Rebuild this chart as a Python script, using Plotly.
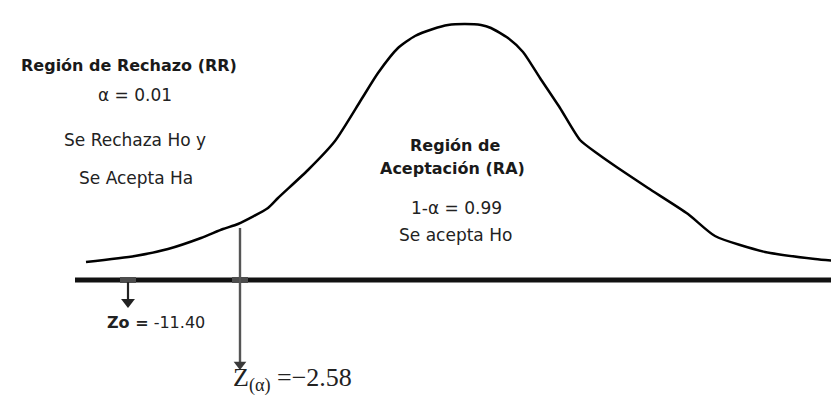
import plotly.graph_objects as go

# Curve (hand-drawn bell): x position and height above the baseline
curve_x = [78, 127, 160, 193, 215, 230, 260, 270, 300, 327, 353, 370, 390, 407, 425, 440,
           457, 473, 483, 500, 515, 532, 552, 572, 590, 610, 640, 680, 707, 757, 807, 839]
curve_h = [18, 24, 31, 42, 51, 56, 72, 82, 110, 139, 180, 207, 232, 244, 251, 255,
           256, 255, 252, 242, 228, 202, 172, 140, 126, 112, 92, 66, 44, 28, 21, 18]

baseline_x = [67, 839]
z_alpha_x = 232          # critical value position
z_alpha_top = 52         # where the gray line starts (just under the curve)
z_alpha_tip = -90
zo_x = 120
zo_tip = -28

left_labels = ["<b>Región de Rechazo (RR)</b>", "α = 0.01", "Se Rechaza Ho y", "Se Acepta Ha"]
left_x = [121, 127, 127, 128]
left_y = [215, 185, 140, 102]

center_labels = ["<b>Región de</b>", "<b>Aceptación (RA)</b>", "1-α = 0.99", "Se acepta Ho"]
center_x = [447, 444, 448, 447]
center_y = [135, 112, 72, 45]

fig = go.Figure()
fig.add_trace(go.Scatter(x=curve_x, y=curve_h, mode="lines",
                         line=dict(color="black", width=2.5, shape="spline", smoothing=0.6),
                         hoverinfo="skip"))
fig.add_trace(go.Scatter(x=baseline_x, y=[0, 0], mode="lines",
                         line=dict(color="#111111", width=5), hoverinfo="skip"))
# small gray ticks on the axis
for cx in (z_alpha_x, zo_x):
    fig.add_trace(go.Scatter(x=[cx - 8, cx + 8], y=[0, 0], mode="lines",
                             line=dict(color="#4d4d4d", width=6), hoverinfo="skip"))

# Z(alpha) arrow: gray stem + head
fig.add_trace(go.Scatter(x=[z_alpha_x, z_alpha_x], y=[z_alpha_top, z_alpha_tip + 8], mode="lines",
                         line=dict(color="#555555", width=2.4), hoverinfo="skip"))
fig.add_trace(go.Scatter(x=[z_alpha_x], y=[z_alpha_tip + 5.5], mode="markers",
                         marker=dict(symbol="triangle-down", size=11, color="#3a3a3a",
                                     line=dict(width=0)), hoverinfo="skip"))
# Zo arrow
fig.add_trace(go.Scatter(x=[zo_x, zo_x], y=[-2, zo_tip + 8], mode="lines",
                         line=dict(color="#222222", width=2.2), hoverinfo="skip"))
fig.add_trace(go.Scatter(x=[zo_x], y=[zo_tip + 6], mode="markers",
                         marker=dict(symbol="triangle-down", size=12, color="#222222",
                                     line=dict(width=0)), hoverinfo="skip"))

bold_font = dict(family="DejaVu Sans", size=16, color="#1a1a1a")
reg_font = dict(family="DejaVu Sans", size=17, color="#222222")
for t, x, y in zip(left_labels, left_x, left_y):
    fig.add_annotation(x=x, y=y, text=t, showarrow=False,
                       font=bold_font if t.startswith("<b>") else reg_font)
for t, x, y in zip(center_labels, center_x, center_y):
    fig.add_annotation(x=x, y=y, text=t, showarrow=False,
                       font=bold_font if t.startswith("<b>") else reg_font)

fig.add_annotation(x=148, y=-42, text="<b>Zo =</b> -11.40", showarrow=False,
                   font=dict(family="DejaVu Sans", size=16, color="#222222"))
fig.add_annotation(x=284, y=-99, text="Z<sub>(α)</sub> =−2.58", showarrow=False,
                   font=dict(family="Liberation Serif", size=26, color="#222222"))

fig.update_layout(width=839, height=396, margin=dict(l=0, r=0, t=0, b=0),
                  paper_bgcolor="white", plot_bgcolor="white", showlegend=False,
                  xaxis=dict(range=[0, 839], visible=False, fixedrange=True),
                  yaxis=dict(range=[-124, 272], visible=False, fixedrange=True))
fig.write_html("out.html")
